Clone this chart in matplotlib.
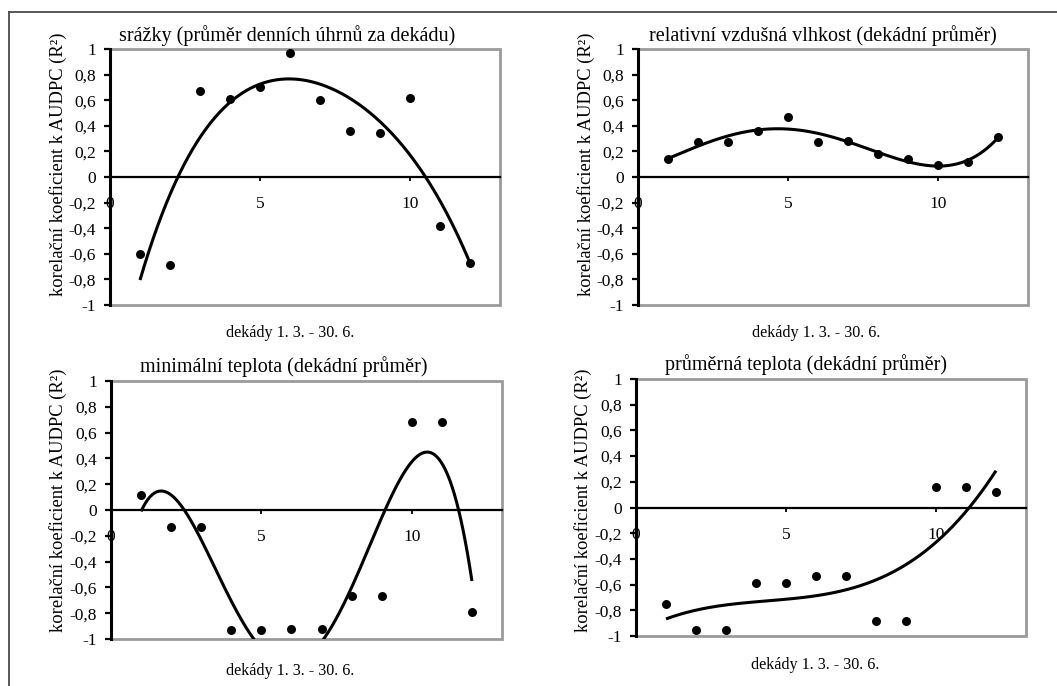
import numpy as np
import matplotlib
matplotlib.use("Agg")
import matplotlib.pyplot as plt
from matplotlib.patches import Rectangle
from matplotlib.lines import Line2D

plt.rcParams['font.family'] = ['Liberation Serif', 'DejaVu Serif']

# ---------------- data ----------------
decades = [1, 2, 3, 4, 5, 6, 7, 8, 9, 10, 11, 12]

srazky = [-0.60, -0.69, 0.67, 0.61, 0.70, 0.97, 0.60, 0.36, 0.34, 0.62, -0.38, -0.67]
vlhkost = [0.14, 0.27, 0.27, 0.36, 0.47, 0.27, 0.28, 0.18, 0.14, 0.09, 0.12, 0.31]
min_teplota = [0.12, -0.13, -0.13, -0.93, -0.93, -0.925, -0.925, -0.67, -0.67, 0.68, 0.68, -0.79]
prum_teplota = [-0.75, -0.95, -0.95, -0.59, -0.59, -0.53, -0.53, -0.886, -0.886, 0.16, 0.16, 0.12]

# trend line of the "minimální teplota" panel
# (the original polynomial trend does not follow a least-squares fit of the points)
min_teplota_trend_x = [1.0, 1.2, 1.65, 2.14, 2.42, 2.97, 3.41, 3.96, 4.40, 4.85,
                       7.0, 7.44, 7.99, 8.54, 9.10, 9.54, 10.03, 10.59, 11.08, 11.63, 12.0]
min_teplota_trend_y = [0.0, 0.065, 0.138, 0.09, 0.0, -0.195, -0.43, -0.69, -0.895, -1.02,
                       -1.02, -0.87, -0.61, -0.30, 0.0, 0.22, 0.37, 0.436, 0.30, -0.01, -0.58]

titles = ["srážky (průměr denních úhrnů za dekádu)",
          "relativní vzdušná vlhkost (dekádní průměr)",
          "minimální teplota (dekádní průměr)",
          "průměrná teplota (dekádní průměr)"]
trend_degree = [4, 4, 6, 3]
ylabel = "korelační koeficient k AUDPC (R²)"
xlabel = "dekády 1. 3. - 30. 6."
y_ticks = [-1, -0.8, -0.6, -0.4, -0.2, 0, 0.2, 0.4, 0.6, 0.8, 1]
y_tick_labels = ["-1", "-0,8", "-0,6", "-0,4", "-0,2", "0", "0,2", "0,4", "0,6", "0,8", "1"]
x_ticks = [0, 5, 10]
x_tick_labels = ["0", "5", "10"]

series = [srazky, vlhkost, min_teplota, prum_teplota]
trend_sources = [(decades, srazky), (decades, vlhkost),
                 (min_teplota_trend_x, min_teplota_trend_y), (decades, prum_teplota)]

# ---------------- layout (pixels) ----------------
W, H = 1057, 686
fig = plt.figure(figsize=(W / 100, H / 100), dpi=100)

# axes boxes: (x0, y0_top, x1, y1_bottom)
boxes = [(110, 49, 500, 305), (638, 49, 1028, 305),
         (111, 381, 502, 639), (636, 379, 1026, 636)]
title_pos = [(287, 41), (823, 41), (284, 372), (806, 370)]
ylabel_pos = [(58, 164), (586, 164), (58, 500), (583, 500)]
xlabel_pos = [(290, 333), (816, 333), (290, 671), (815, 665)]

def fx(x):
    return x / W

def fy(y):
    return 1 - y / H

# outer frame (top and left edges only visible)
fig.add_artist(Line2D([fx(9), fx(9)], [fy(12), fy(700)], color='#4a4a4a', lw=1.3,
                      transform=fig.transFigure))
fig.add_artist(Line2D([fx(9), fx(1060)], [fy(12), fy(12)], color='#4a4a4a', lw=1.3,
                      transform=fig.transFigure))

for i, (vals, box) in enumerate(zip(series, boxes)):
    x0, y0, x1, y1 = box
    ax = fig.add_axes([fx(x0), fy(y1), fx(x1 - x0), (y1 - y0) / H])
    ax.set_xlim(0, 13)
    ax.set_ylim(-1, 1)

    # polynomial trend line
    tx_, ty_ = trend_sources[i]
    coef = np.polyfit(tx_, ty_, trend_degree[i])
    xs = np.linspace(decades[0], decades[-1], 300)
    ax.plot(xs, np.polyval(coef, xs), color='black', lw=2.2, zorder=3,
            solid_capstyle='butt')
    ax.scatter(decades, vals, s=42, color='black', zorder=4, linewidths=0)

    # spines
    ax.spines['top'].set_visible(False)
    ax.spines['right'].set_visible(False)
    ax.spines['left'].set_linewidth(2.2)
    ax.spines['left'].set_color('black')
    ax.spines['bottom'].set_position(('data', 0))
    ax.spines['bottom'].set_linewidth(1.6)
    ax.spines['bottom'].set_color('black')
    ax.add_patch(Rectangle((0, 0), 1, 1, transform=ax.transAxes, fill=False,
                           ec='#9a9a9e', lw=2.0, zorder=0.5, clip_on=False))

    ax.set_yticks(y_ticks)
    ax.set_yticklabels(y_tick_labels)
    ax.set_xticks(x_ticks)
    ax.set_xticklabels(x_tick_labels)
    ax.tick_params(axis='y', direction='out', length=4, width=1.6, pad=6,
                   labelsize=12.5, colors='black')
    ax.tick_params(axis='x', direction='out', length=3, width=1.3, pad=11,
                   labelsize=12.5, colors='black')

    tx, ty = title_pos[i]
    fig.text(fx(tx), fy(ty), titles[i], ha='center', va='baseline', fontsize=14.5)
    lx, ly = ylabel_pos[i]
    fig.text(fx(lx), fy(ly), ylabel, ha='center', va='center', rotation=90,
             fontsize=13.3)
    bx, by = xlabel_pos[i]
    fig.text(fx(bx), fy(by), xlabel, ha='center', va='center', fontsize=11.6)

fig.savefig("out.png", dpi=100)
